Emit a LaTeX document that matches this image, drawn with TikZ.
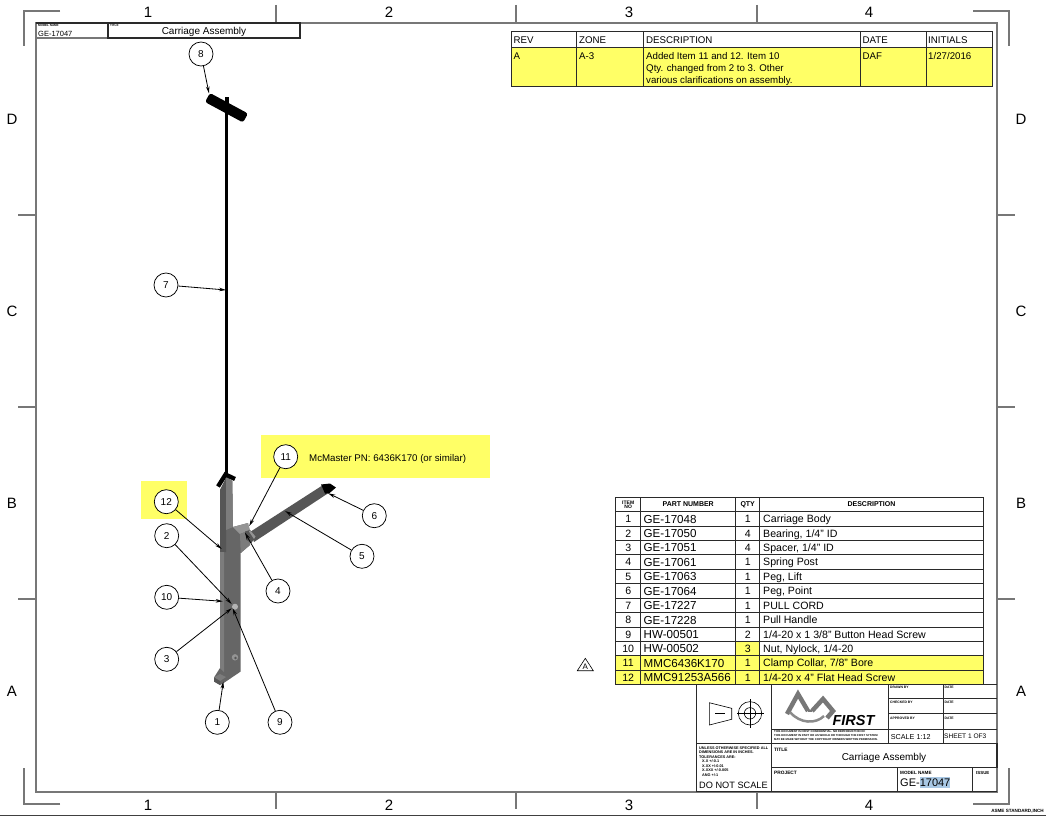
\documentclass[tikz,border=0pt]{standalone}
\usepackage{fontspec}
\setmainfont{Liberation Sans}
\usetikzlibrary{arrows.meta}
\tikzset{
 px/.style={x=1pt,y=-1pt},
 frameline/.style={draw=framegrey,line width=1.4pt},
 tableline/.style={draw=tabledark,line width=1pt},
 thickline/.style={draw=tabledark,line width=1.25pt},
 thinline/.style={draw=tabledark,line width=0.7pt},
 zone/.style={font=\fontsize{15}{15}\selectfont,text=black,inner sep=0pt},
 txt/.style={anchor=west,inner sep=0pt,text=black,text height=0.72*#1 pt,text depth=0pt,font=\fontsize{#1}{#1}\selectfont},
 txt/.default=10.5,
 ctr/.style={anchor=center,inner sep=0pt,text=black,text height=0.72*#1 pt,text depth=0pt,font=\fontsize{#1}{#1}\selectfont},
 ctr/.default=10.5,
 tiny/.style={anchor=west,inner sep=0pt,text=black,font=\bfseries\fontsize{#1}{#1}\selectfont},
 tiny/.default=4,
 balloon/.style={circle,draw=black,line width=0.75pt,fill=white,minimum size=24pt,inner sep=0pt,text=black,font=\fontsize{10}{10}\selectfont},
 leader/.style={draw=black,line width=0.8pt,-{Stealth[length=7pt,width=3.6pt]}},
}
\definecolor{framegrey}{HTML}{777777}
\definecolor{tabledark}{HTML}{2A2A2A}
\definecolor{hl}{HTML}{FFFF66}
\definecolor{bodyA}{HTML}{666666}
\definecolor{bodyB}{HTML}{7C7C7C}
\definecolor{bodyC}{HTML}{565656}
\definecolor{bodyD}{HTML}{949494}
\definecolor{logo}{HTML}{777777}
\definecolor{selblue}{HTML}{A9C8E4}
\begin{document}
\begin{tikzpicture}[px]
\useasboundingbox (0,0) rectangle (1046,816);
\fill[white] (0,0) rectangle (1046,816);
\draw[draw=black!75,line width=1pt] (0,815.5) -- (1046,815.5);
% frame
\draw[frameline] (36,23) rectangle (997,792);
\draw[frameline] (60,11) -- (24,11) -- (24,46);
\draw[frameline] (973,11) -- (1009,11) -- (1009,46);
\draw[frameline] (60,804) -- (24,804) -- (24,768);
\draw[frameline] (973,804) -- (1009,804) -- (1009,768);
\foreach \x in {276,516,757}{
 \draw[frameline] (\x,5) -- (\x,23);
 \draw[frameline] (\x,792) -- (\x,809);}
\foreach \y in {215,407,599}{
 \draw[frameline] (18,\y) -- (36,\y);
 \draw[frameline] (997,\y) -- (1015,\y);}
\foreach \x/\t in {148/1,389/2,629/3,869/4}{
 \node[zone] at (\x,12) {\t};
 \node[zone] at (\x,805) {\t};}
\foreach \y/\t in {119/D,311/C,503/B,691/A}{
 \node[zone] at (12,\y) {\t};
 \node[zone] at (1021,\y) {\t};}
% header
\draw[draw=framegrey,line width=1.2pt] (36,38) -- (108,38);
\draw[thickline] (36,23) -- (108,23);
\draw[thickline] (108,23) rectangle (300,38);
\node[tiny=3] at (38,25.5) {MODEL NAME};
\node[tiny=3] at (110,25.5) {TITLE};
\node[txt=7.5] at (38,33.5) {GE-17047};
\node[ctr=10] at (204,30.5) {Carriage Assembly};
% revision table
\fill[hl] (511,48) rectangle (992,86);
\draw[tableline] (511,32) rectangle (992,86);
\draw[tableline] (511,48) -- (992,48);
\foreach \x in {576.5,643.5,860,926}{\draw[tableline] (\x,32) -- (\x,86);}
\foreach \x/\t in {513.5/REV,579/ZONE,646/DESCRIPTION,862.5/DATE,928/INITIALS}{\node[txt=9.7] at (\x,39.8) {\t};}
\node[txt=9.7] at (513.5,55.6) {A};
\node[txt=9.7] at (579,55.6) {A-3};
\node[txt=9.7] at (862.5,55.6) {DAF};
\node[txt=9.7] at (928,55.6) {1/27/2016};
\node[txt=9.7] at (646,55.6) {Added Item 11 and 12. Item 10};
\node[txt=9.7] at (646,67.8) {Qty. changed from 2 to 3. Other};
\node[txt=9.7] at (646,79.7) {various clarifications on assembly.};
% callouts
\fill[hl] (141,481) rectangle (187,519);
\fill[hl] (261,435) rectangle (490,478);
\node[txt=9.7] at (309,458) {McMaster PN: 6436K170 (or similar)};
% part: cord and handle
\draw[black,line width=3pt] (226.2,100) -- (226.2,475);
\fill[black,rounded corners=2.5pt] (210,93) -- (248,113.5) -- (243,122.5) -- (205,102) -- cycle;
\fill[black] (225,97) rectangle (229.3,104);
% part: peg
\fill[bodyC] (250,532) -- (321.5,486) -- (327,494) -- (254,542) -- cycle;
\fill[black] (321,484.5) -- (330,483.5) -- (336,487.5) -- (329,493.5) -- (325,493.5) -- cycle;
% part: body
\fill[bodyA] (220,490) -- (226.5,477) -- (232.3,481) -- (233,527) -- (248,523) -- (250,545) -- (240.7,553) -- (240.7,671.5) -- (223,683.5) -- (220,685) -- (214,681.5) -- (214,677.5) -- (220,668) -- cycle;
\fill[bodyC] (220,490) -- (226.5,477) -- (226,552) -- (220,552) -- cycle;
\fill[bodyB] (220,552) -- (224,552) -- (224,672) -- (220,668) -- cycle;
\fill[bodyB] (214,677.5) -- (220,674) -- (226,677) -- (220,681) -- cycle;
\fill[bodyC] (214,677.5) -- (220,681) -- (220,685) -- (214,681.5) -- cycle;
\fill[bodyB] (226,477) -- (232.3,481) -- (233,527) -- (226,530) -- cycle;
\fill[bodyD] (233,527) -- (248,523) -- (250,530) -- (240,534) -- cycle;
\fill[bodyB] (240,534) -- (250,530) -- (250,545) -- (240.7,553) -- cycle;
% collar
\fill[bodyC] (245,531.5) -- (250,530) -- (255.5,536.5) -- (251.5,543) -- (246.5,540) -- cycle;
\fill[bodyD] (249,531.5) -- (250,530) -- (255.5,536.5) -- (254,539) -- cycle;
\draw[black,line width=4.3pt] (218,486.5) -- (225.5,474.5) -- (235,479);
% screws
\fill[bodyD!70!white] (235,606.7) circle (3pt);
\fill[bodyD] (235,657.3) circle (3.2pt);
\fill[bodyC] (235.5,658) circle (1.3pt);
% balloons
\foreach \n/\x/\y in {8/201/54,7/166/285,11/285.7/456.7,12/166.3/501.7,2/166.7/535.7,6/374.3/515.7,5/362/556.3,4/278/591,10/166.7/597.3,3/166.7/659.3,1/217.3/722.3,9/280/722.3}{
 \node[balloon] (b\n) at (\x,\y) {\n};}
\coordinate (t8) at (209,93.3);
\coordinate (t7) at (226,290);
\coordinate (t11) at (249.3,526);
\coordinate (t12) at (221.7,549);
\coordinate (t2) at (231.7,604);
\coordinate (t6) at (328.3,493.3);
\coordinate (t5) at (285,511);
\coordinate (t4) at (245,532.7);
\coordinate (t10) at (222.7,601.3);
\coordinate (t3) at (231.7,608.3);
\coordinate (t1) at (223.3,681.7);
\coordinate (t9) at (232.7,608.3);
\foreach \n in {8,7,11,12,2,6,5,4,10,3,1,9}{\draw[leader] (b\n) -- (t\n);}
% parts list
\fill[hl] (735.7,641.45) rectangle (759.7,655.87);
\fill[hl] (615.7,655.87) rectangle (983.3,684.7);
\draw[thickline] (615.7,497.3) rectangle (983.3,684.7);
\draw[thickline] (615.7,511.7) -- (983.3,511.7);
\foreach \i in {1,...,11}{\draw[tableline] (615.7,511.7+14.417*\i) -- (983.3,511.7+14.417*\i);}
\foreach \x in {640.7,735.7,759.7}{\draw[tableline] (\x,497.3) -- (\x,684.7);}
\node[anchor=center,inner sep=0pt,align=center,font=\bfseries\fontsize{5}{5}\selectfont] at (628.2,504.5) {ITEM\\[-0.6pt]NO};
\node[anchor=center,inner sep=0pt,font=\bfseries\fontsize{7}{7}\selectfont] at (688.2,504.5) {PART NUMBER};
\node[anchor=center,inner sep=0pt,font=\bfseries\fontsize{7}{7}\selectfont] at (747.7,504.5) {QTY};
\node[anchor=center,inner sep=0pt,font=\bfseries\fontsize{7}{7}\selectfont] at (871.5,504.5) {DESCRIPTION};
\foreach \i/\a/\b/\c/\d in {1/1/GE-17048/1/Carriage Body,2/2/GE-17050/4/{Bearing, 1/4" ID},3/3/GE-17051/4/{Spacer, 1/4" ID},4/4/GE-17061/1/Spring Post,5/5/GE-17063/1/{Peg, Lift},6/6/GE-17064/1/{Peg, Point},7/7/GE-17227/1/PULL CORD,8/8/GE-17228/1/Pull Handle,9/9/HW-00501/2/{1/4-20 x 1 3/8" Button Head Screw},10/10/HW-00502/3/{Nut, Nylock, 1/4-20},11/11/MMC6436K170/1/{Clamp Collar, 7/8" Bore},12/12/MMC91253A566/1/{1/4-20 x 4" Flat Head Screw}}{
 \node[ctr=10.6] at (628.2,504.5+14.417*\i) {\a};
 \node[txt=11.6] at (643.5,504.5+14.417*\i) {\b};
 \node[ctr=10.6] at (747.7,504.5+14.417*\i) {\c};
 \node[txt=10.6] at (763,504.5+14.417*\i) {\d};}
% revision flag
\draw[black,line width=0.6pt] (577.3,670.7) -- (593.3,670.7) -- (585.3,658.3) -- cycle;
\node[ctr=8] at (585.3,666.3) {A};
% title block
\draw[tableline] (696.7,684.7) -- (696.7,791.7);
\draw[tableline] (771.7,684.7) -- (771.7,791.7);
\draw[tableline] (696.7,743.5) -- (771.7,743.5);
\draw[tableline] (696.7,791.7) -- (997,791.7);
\draw[tableline] (983.3,684.3) -- (997,684.3);
\draw[thinline] (888.7,684.3) -- (888.7,743.5);
\draw[thinline] (943,684.3) -- (943,743.5);
\foreach \y in {698.3,713.3}{\draw[thinline] (888.7,\y) -- (997,\y);}
\draw[tableline] (771.7,729) -- (997,729);
\draw[thickline] (771.7,743.5) rectangle (997,767.7);
\draw[thickline] (771.7,767.7) rectangle (897.7,791.7);
\draw[tableline] (972.7,767.7) -- (972.7,791.7);
\foreach \y/\t in {687/DRAWN BY,702/CHECKED BY,718/APPROVED BY}{\node[tiny=3.4] at (890,\y) {\t};}
\foreach \y in {687,702,718}{\node[tiny=3.4] at (944.5,\y) {DATE};}
\node[txt=7.2] at (890.7,736.5) {SCALE 1:12};
\node[txt=6.6] at (944,736.5) {SHEET 1 OF3};
\node[tiny=4.8] at (774,750) {TITLE};
\node[ctr=10] at (884,757) {Carriage Assembly};
\node[tiny=4.8] at (774,773) {PROJECT};
\node[tiny=4.6] at (900,773) {MODEL NAME};
\node[tiny=4.4] at (976,773) {ISSUE};
\fill[selblue] (920,777) rectangle (950,788);
\node[txt=11] at (900,782.5) {GE-17047};
% tolerance text
\node[tiny=3.8] at (699,748) {UNLESS OTHERWISE SPECIFIED ALL};
\node[tiny=3.8] at (699,752.5) {DIMENSIONS ARE IN INCHES.};
\node[tiny=3.8] at (699,757.5) {TOLERANCES ARE:};
\node[tiny=3.8] at (702,761.5) {X.X +/-0.1};
\node[tiny=3.8] at (702,766) {X.XX +/-0.01};
\node[tiny=3.8] at (702,770.5) {X.XXX +/-0.005};
\node[tiny=3.8] at (702,775) {ANG +/-1};
\node[txt=9.2] at (699,785.5) {DO NOT SCALE};
% projection symbol
\draw[black,line width=0.6pt] (709.3,702.7) -- (709.3,725) -- (731.7,719.3) -- (731.7,708.3) -- cycle;
\draw[black,line width=0.6pt] (715,713.3) -- (725,713.3);
\draw[black,line width=0.6pt] (750,713.3) circle (11.7pt) circle (5.7pt);
\draw[black,line width=0.6pt] (737,713.3) -- (764,713.3) (750,699) -- (750,727.5);
% logo
\draw[logo,line width=4.5pt,line join=miter] (787,714) -- (798,694) -- (808,711);
\draw[logo,line width=4.5pt,line join=miter] (812,711) -- (823,699) -- (833,711) -- (827,718);
\draw[logo!85!white,line width=2.5pt] (790,712) .. controls (800,724) and (816,724) .. (824,716);
\draw[logo,line width=2pt] (808,711) -- (812,711);
\node[inner sep=0pt,text=black] at (853.5,720) {\fontsize{14.5}{14.5}\selectfont\bfseries\itshape FIRST};
\node[tiny=2.8] at (774,731.3) {THIS DOCUMENT IS FIRST CONFIDENTIAL. NO REPRODUCTION OF};
\node[tiny=2.8] at (774,735.5) {THIS DOCUMENT IN PART OR AS WHOLE OR THROUGH THE FIRST SYSTEM};
\node[tiny=2.8] at (774,739.7) {MAY BE MADE WITHOUT THE COPYRIGHT OWNERS WRITTEN PERMISSION.};
\node[anchor=east,inner sep=0pt,text=black,font=\bfseries\fontsize{4.6}{4.6}\selectfont] at (1044,811.5) {ASME STANDARD,INCH};
\end{tikzpicture}
\end{document}
